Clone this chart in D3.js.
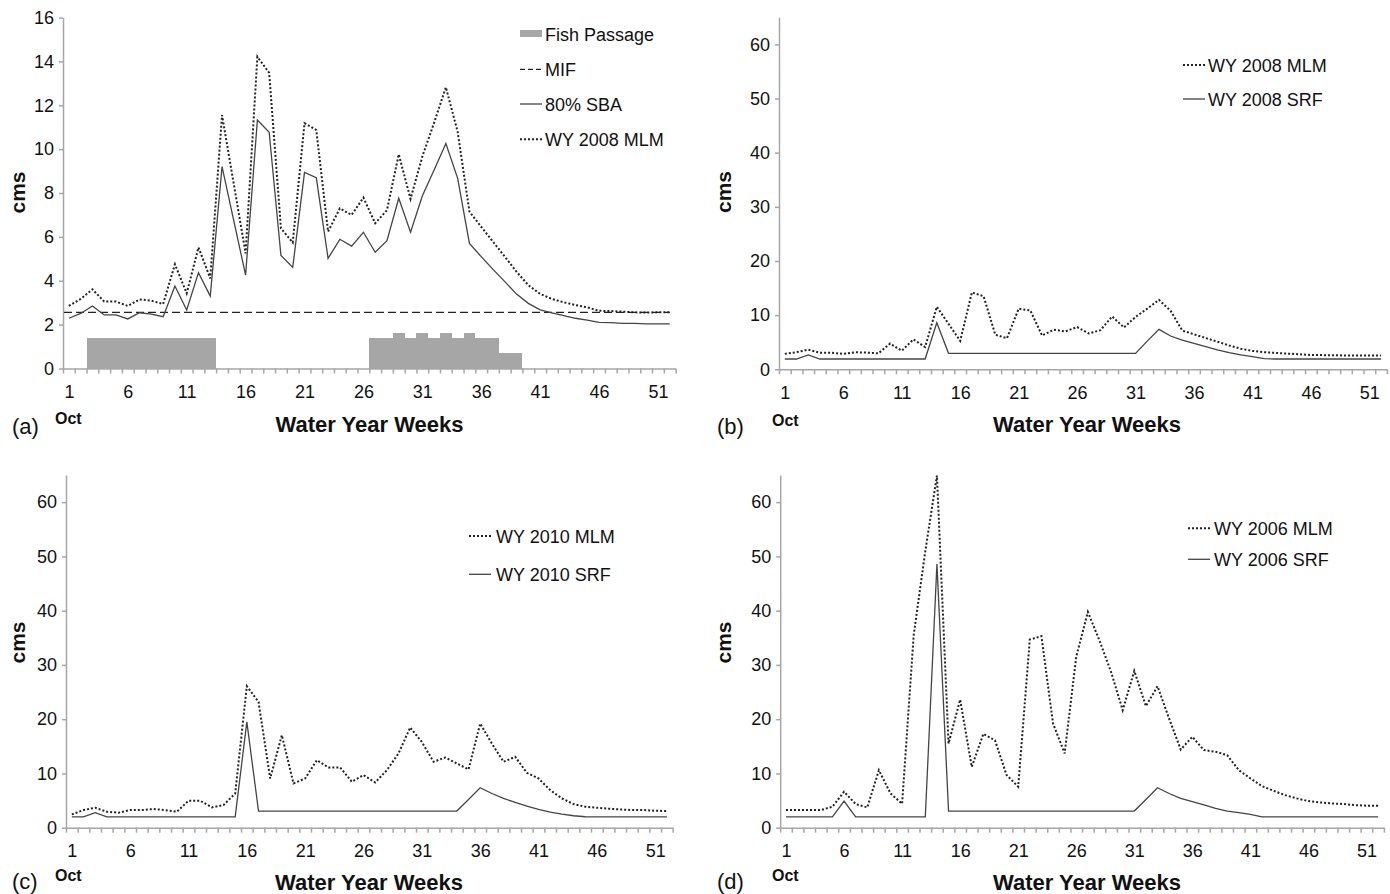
<!DOCTYPE html>
<html>
<head>
<meta charset="utf-8">
<script src="https://cdn.jsdelivr.net/npm/d3@7"></script>
<style>
  body { margin: 0; background: #fff; }
  svg text { font-family: "Liberation Sans", Arial, sans-serif; fill: #111; }
</style>
</head>
<body>
<svg id="chart" width="1390" height="894"></svg>
<script>
// categories + tick labels
const weeks = d3.range(1, 53);
const weekTickLabels = [1, 6, 11, 16, 21, 26, 31, 36, 41, 46, 51];
const cmsTicksA = [0, 2, 4, 6, 8, 10, 12, 14, 16];
const cmsTicksBCD = [0, 10, 20, 30, 40, 50, 60];

// (a) WY 2008 MLM, 80% SBA, MIF, fish passage
const mlm2008 = [2.85, 3.17, 3.61, 3.05, 3.05, 2.85, 3.15, 3.09, 2.94, 4.75,
                 3.43, 5.52, 4.11, 11.55, 8.4, 5.25, 14.21, 13.48, 6.39, 5.74,
                 11.18, 10.87, 6.24, 7.3, 7.0, 7.79, 6.62, 7.22, 9.76, 7.73,
                 9.66, 11.2, 12.82, 10.79, 7.15, 6.46, 5.78, 5.1, 4.41, 3.8,
                 3.4, 3.17, 3.02, 2.89, 2.79, 2.63, 2.62, 2.59, 2.56, 2.55, 2.56, 2.56];
const sba80 = [2.29, 2.51, 2.85, 2.44, 2.44, 2.26, 2.54, 2.48, 2.36, 3.76,
               2.67, 4.37, 3.3, 9.2, 6.73, 4.26, 11.33, 10.77, 5.15, 4.61,
               8.94, 8.7, 5.02, 5.89, 5.58, 6.21, 5.3, 5.83, 7.76, 6.21,
               7.86, 9.05, 10.26, 8.67, 5.7, 5.1, 4.52, 3.96, 3.39, 2.97,
               2.67, 2.54, 2.41, 2.29, 2.21, 2.1, 2.09, 2.06, 2.06, 2.03, 2.03, 2.03];
const mif = 2.56;
const fishPassage = [0, 0, 1.4, 1.4, 1.4, 1.4, 1.4, 1.4, 1.4, 1.4,
                     1.4, 1.4, 1.4, 0, 0, 0, 0, 0, 0, 0,
                     0, 0, 0, 0, 0, 0, 1.4, 1.4, 1.6, 1.4,
                     1.6, 1.4, 1.6, 1.4, 1.6, 1.4, 1.4, 0.7, 0.7, 0,
                     0, 0, 0, 0, 0, 0, 0, 0, 0, 0, 0, 0];

// (b) WY 2008 SRF
const srf2008 = [1.9, 1.9, 2.65, 1.9, 1.9, 1.9, 1.9, 1.9, 1.9, 1.9,
                 1.9, 1.9, 1.9, 8.6, 2.95, 2.95, 2.95, 2.95, 2.95, 2.95,
                 2.95, 2.95, 2.95, 2.95, 2.95, 2.95, 2.95, 2.95, 2.95, 2.95,
                 2.95, 5.2, 7.38, 6.15, 5.4, 4.8, 4.2, 3.57, 3.08, 2.65,
                 2.34, 1.97, 1.9, 1.9, 1.9, 1.9, 1.9, 1.9, 1.9, 1.9, 1.9, 1.9];

// (c) WY 2010
const mlm2010 = [2.45, 3.25, 3.68, 2.94, 2.76, 3.25, 3.25, 3.44, 3.25, 2.94,
                 4.97, 4.97, 3.74, 4.17, 6.3, 26.07, 23.2, 9.08, 17.05, 8.16,
                 9.08, 12.45, 11.1, 11.1, 8.47, 9.7, 8.34, 10.6, 13.7, 18.47,
                 15.8, 12.15, 12.94, 11.84, 10.74, 19.2, 15.5, 12.15, 13.07, 10.12,
                 9.08, 6.93, 5.4, 4.36, 3.87, 3.68, 3.5, 3.37, 3.25, 3.25, 3.13, 3.07];
const srf2010 = [2.0, 2.0, 2.76, 2.0, 2.0, 2.0, 2.0, 2.0, 2.0, 2.0,
                 2.0, 2.0, 2.0, 2.0, 2.0, 19.5, 3.07, 3.07, 3.07, 3.07,
                 3.07, 3.07, 3.07, 3.07, 3.07, 3.07, 3.07, 3.07, 3.07, 3.07,
                 3.07, 3.07, 3.07, 3.07, 5.2, 7.36, 6.3, 5.4, 4.66, 3.99,
                 3.37, 2.88, 2.5, 2.2, 2.02, 2.0, 2.0, 2.0, 2.0, 2.0, 2.0, 2.0];

// (d) WY 2006
const mlm2006 = [3.25, 3.25, 3.25, 3.25, 3.87, 6.63, 4.36, 3.74, 10.6, 6.32,
                 4.4, 35.5, 51, 64.9, 15.5, 23.6, 11.2, 17.3, 16.1, 9.7,
                 7.55, 34.66, 35.3, 19.2, 13.7, 31.5, 39.75, 34.5, 28.7, 21.66,
                 28.9, 22.4, 26.07, 20.1, 14.4, 16.75, 14.3, 14.0, 13.37, 10.6,
                 9.08, 7.67, 6.8, 6.0, 5.4, 4.9, 4.66, 4.48, 4.36, 4.17, 4.05, 4.05];
const srf2006 = [2.0, 2.0, 2.0, 2.0, 2.0, 4.9, 2.0, 2.0, 2.0, 2.0,
                 2.0, 2.0, 2.0, 48.6, 3.07, 3.07, 3.07, 3.07, 3.07, 3.07,
                 3.07, 3.07, 3.07, 3.07, 3.07, 3.07, 3.07, 3.07, 3.07, 3.07,
                 3.07, 5.2, 7.36, 6.3, 5.4, 4.8, 4.2, 3.56, 3.07, 2.76,
                 2.45, 2.0, 2.0, 2.0, 2.0, 2.0, 2.0, 2.0, 2.0, 2.0, 2.0, 2.0];

const axisColor = "#a6a6a6";
const dotStyle = { stroke: "#222", width: 2, dash: "2,2" };
const solidStyle = { stroke: "#444", width: 1.3, dash: null };
const dashStyle = { stroke: "#222", width: 1.3, dash: "8,4" };

const svg = d3.select("#chart");
svg.append("rect").attr("width", 1390).attr("height", 894).attr("fill", "#fff");

const panels = [
  { left: 63, right: 675.6, bottom: 368.5, top: 17.5, yMax: 16, yTicks: cmsTicksA,
    label: "(a)", labelPos: [12, 434], octPos: [55, 424], cmsPos: [25, 192.5], wywPos: [369.5, 432],
    bars: fishPassage, mif: mif,
    series: [{ values: sba80, style: solidStyle }, { values: mlm2008, style: dotStyle }],
    legendX: 520, legendTextX: 545,
    legend: [{ type: "rect", y: 33.5, text: "Fish Passage" },
             { type: "line", style: { stroke: "#222", width: 1.3, dash: "5,3" }, y: 69.3, text: "MIF" },
             { type: "line", style: solidStyle, y: 104, text: "80% SBA" },
             { type: "line", style: dotStyle, y: 139.3, text: "WY 2008 MLM" }] },
  { left: 779, right: 1386.9, bottom: 369.3, top: 17.3, yMax: 65, yTicks: cmsTicksBCD,
    label: "(b)", labelPos: [717, 434], octPos: [772, 426], cmsPos: [731, 192], wywPos: [1087, 432],
    series: [{ values: srf2008, style: solidStyle }, { values: mlm2008, style: dotStyle }],
    legendX: 1183, legendTextX: 1208,
    legend: [{ type: "line", style: dotStyle, y: 65, text: "WY 2008 MLM" },
             { type: "line", style: solidStyle, y: 99, text: "WY 2008 SRF" }] },
  { left: 66, right: 672.7, bottom: 827.7, top: 475, yMax: 65, yTicks: cmsTicksBCD,
    label: "(c)", labelPos: [12, 889], octPos: [55, 881], cmsPos: [25, 642.5], wywPos: [369, 890],
    series: [{ values: srf2010, style: solidStyle }, { values: mlm2010, style: dotStyle }],
    legendX: 469, legendTextX: 496,
    legend: [{ type: "line", style: dotStyle, y: 536, text: "WY 2010 MLM" },
             { type: "line", style: solidStyle, y: 574.3, text: "WY 2010 SRF" }] },
  { left: 780.2, right: 1383.9, bottom: 827.7, top: 475, yMax: 65, yTicks: cmsTicksBCD,
    label: "(d)", labelPos: [717, 889], octPos: [772, 881], cmsPos: [731, 642.5], wywPos: [1087, 890],
    series: [{ values: srf2006, style: solidStyle }, { values: mlm2006, style: dotStyle }],
    legendX: 1188, legendTextX: 1214,
    legend: [{ type: "line", style: dotStyle, y: 528.3, text: "WY 2006 MLM" },
             { type: "line", style: solidStyle, y: 559.3, text: "WY 2006 SRF" }] }
];

panels.forEach(drawPanel);

function applyStyle(sel, s) {
  sel.attr("fill", "none").attr("stroke", s.stroke).attr("stroke-width", s.width);
  if (s.dash) sel.attr("stroke-dasharray", s.dash);
  return sel;
}

function drawPanel(p) {
  const x = d3.scaleLinear().domain([0.5, 52.5]).range([p.left, p.right]);
  const y = d3.scaleLinear().domain([0, p.yMax]).range([p.bottom, p.top]);
  const g = svg.append("g");

  // fish passage columns (no gap between weeks)
  if (p.bars) {
    g.selectAll("rect.bar")
      .data(weeks.map((w, i) => ({ w: w, v: p.bars[i] })).filter(d => d.v > 0))
      .join("rect")
      .attr("class", "bar")
      .attr("x", d => Math.round(x(d.w - 0.5)))
      .attr("width", d => Math.round(x(d.w + 0.5)) - Math.round(x(d.w - 0.5)))
      .attr("y", d => y(d.v))
      .attr("height", d => y(0) - y(d.v))
      .attr("fill", "#a6a6a6")
      .attr("shape-rendering", "crispEdges");
  }

  // y axis
  const ya = g.append("g")
    .attr("transform", `translate(${p.left},0)`)
    .call(d3.axisLeft(y).tickValues(p.yTicks).tickSize(4).tickSizeOuter(0).tickPadding(5));

  // x axis: ticks on week boundaries, labels on weeks
  const xa = g.append("g")
    .attr("transform", `translate(0,${p.bottom})`)
    .call(d3.axisBottom(x).tickValues(d3.range(0.5, 53, 1)).tickSize(5).tickSizeOuter(0).tickFormat(""));
  const xl = g.append("g")
    .attr("transform", `translate(0,${p.bottom})`)
    .call(d3.axisBottom(x).tickValues(weekTickLabels).tickSize(0).tickPadding(17));
  xl.select(".domain").remove();

  [ya, xa, xl].forEach(a => {
    a.selectAll(".domain, .tick line").attr("stroke", axisColor).attr("stroke-width", 1.5);
    a.selectAll("text").attr("font-size", 18).attr("fill", "#111")
      .attr("font-family", "Liberation Sans, Arial, sans-serif");
  });

  // MIF
  if (p.mif !== undefined) {
    applyStyle(g.append("line"), dashStyle)
      .attr("x1", x(0.5) + 1).attr("x2", x(52))
      .attr("y1", y(p.mif)).attr("y2", y(p.mif));
  }

  const line = d3.line().x((d, i) => x(weeks[i])).y(d => y(d));
  p.series.forEach(s => {
    applyStyle(g.append("path").datum(s.values), s.style).attr("d", line);
  });

  // legend
  p.legend.forEach(e => {
    if (e.type === "rect") {
      g.append("rect").attr("x", p.legendX).attr("y", e.y - 3.5)
        .attr("width", 22).attr("height", 7).attr("fill", "#a6a6a6");
    } else {
      applyStyle(g.append("line"), e.style)
        .attr("x1", p.legendX).attr("x2", p.legendX + 22)
        .attr("y1", e.y).attr("y2", e.y);
    }
    g.append("text").attr("x", p.legendTextX).attr("y", e.y + 7)
      .attr("font-size", 18).text(e.text);
  });

  // labels
  g.append("text").attr("x", p.labelPos[0]).attr("y", p.labelPos[1])
    .attr("font-size", 22).text(p.label);
  g.append("text").attr("x", p.octPos[0]).attr("y", p.octPos[1])
    .attr("font-size", 16).attr("font-weight", "bold").text("Oct");
  g.append("text")
    .attr("transform", `translate(${p.cmsPos[0]},${p.cmsPos[1]}) rotate(-90)`)
    .attr("text-anchor", "middle").attr("font-size", 21).attr("font-weight", "bold").text("cms");
  g.append("text").attr("x", p.wywPos[0]).attr("y", p.wywPos[1])
    .attr("text-anchor", "middle").attr("font-size", 22).attr("font-weight", "bold")
    .text("Water Year Weeks");
}
</script>
</body>
</html>
